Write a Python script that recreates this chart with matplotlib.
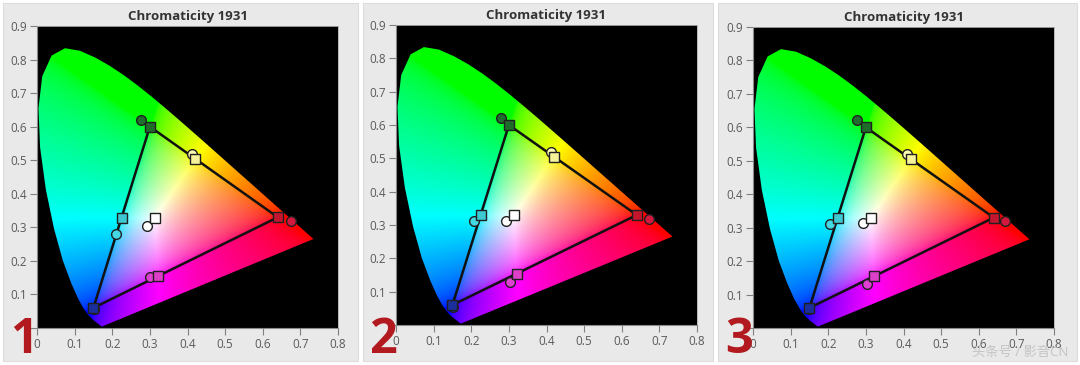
import numpy as np
import matplotlib
matplotlib.use("Agg")
import matplotlib.pyplot as plt
from matplotlib.patches import Polygon, Rectangle

plt.rcParams['font.family'] = ['Open Sans', 'Noto Sans CJK SC', 'DejaVu Sans']

# CIE 1931 spectral locus (2 deg observer), 380..700 nm
locus_x = [0.1741, 0.1740, 0.1738, 0.1736, 0.1733, 0.1730, 0.1726, 0.1721, 0.1714, 0.1703,
           0.1689, 0.1669, 0.1644, 0.1611, 0.1566, 0.1510, 0.1440, 0.1355, 0.1241, 0.1096,
           0.0913, 0.0687, 0.0454, 0.0235, 0.0082, 0.0039, 0.0139, 0.0389, 0.0743, 0.1142,
           0.1547, 0.1929, 0.2296, 0.2658, 0.3016, 0.3373, 0.3731, 0.4087, 0.4441, 0.4788,
           0.5125, 0.5448, 0.5752, 0.6029, 0.6270, 0.6482, 0.6658, 0.6801, 0.6915, 0.7006,
           0.7079, 0.7140, 0.7190, 0.7230, 0.7260, 0.7300, 0.7347]
locus_y = [0.0050, 0.0050, 0.0049, 0.0049, 0.0048, 0.0048, 0.0048, 0.0048, 0.0051, 0.0058,
           0.0069, 0.0086, 0.0109, 0.0138, 0.0177, 0.0227, 0.0297, 0.0399, 0.0578, 0.0868,
           0.1327, 0.2007, 0.2950, 0.4127, 0.5384, 0.6548, 0.7502, 0.8120, 0.8338, 0.8262,
           0.8059, 0.7816, 0.7543, 0.7243, 0.6923, 0.6589, 0.6245, 0.5896, 0.5547, 0.5202,
           0.4866, 0.4544, 0.4242, 0.3965, 0.3725, 0.3514, 0.3340, 0.3197, 0.3083, 0.2993,
           0.2920, 0.2859, 0.2809, 0.2770, 0.2740, 0.2700, 0.2653]

# order: R, G, B, Y, C, M, W
target_x = [0.64, 0.30, 0.15, 0.419, 0.225, 0.321, 0.3127]
target_y = [0.33, 0.60, 0.06, 0.505, 0.329, 0.154, 0.329]

measured_x = [
    [0.676, 0.277, 0.152, 0.411, 0.211, 0.300, 0.293],
    [0.672, 0.278, 0.151, 0.411, 0.207, 0.304, 0.293],
    [0.671, 0.276, 0.149, 0.410, 0.205, 0.304, 0.292],
]
measured_y = [
    [0.318, 0.620, 0.057, 0.520, 0.280, 0.153, 0.303],
    [0.318, 0.622, 0.055, 0.520, 0.311, 0.130, 0.313],
    [0.320, 0.623, 0.057, 0.520, 0.311, 0.131, 0.315],
]

square_colors = ['#c3162e', '#1f6b2a', '#1b2f9c', '#f6f29a', '#3cc9d2', '#de3fc9', '#ffffff']
circle_colors = ['#d3183e', '#1f6e2e', '#1a309e', '#fdfbb0', '#44d8e2', '#e040d2', '#ffffff']

panel_numbers = ['1', '2', '3']
title = 'Chromaticity 1931'
x_ticklabels = ['0', '0.1', '0.2', '0.3', '0.4', '0.5', '0.6', '0.7', '0.8']
y_ticklabels = ['', '0.1', '0.2', '0.3', '0.4', '0.5', '0.6', '0.7', '0.8', '0.9']

# pixel layout (1080x365)
W, H = 1080, 365
panel_boxes = [(3, 3, 358, 361), (363, 3, 713, 361), (718, 3, 1077, 361)]
axes_boxes = [(37, 26, 338, 328), (396, 25, 697, 325), (753, 27, 1054, 328)]


def chroma_image(nx=420, ny=470):
    xs = np.linspace(0, 0.8, nx)
    ys = np.linspace(0.001, 0.9, ny)
    gx, gy = np.meshgrid(xs, ys)
    X = gx / gy
    Y = np.ones_like(gx)
    Z = (1 - gx - gy) / gy
    m = np.array([[3.2406, -1.5372, -0.4986],
                  [-0.9689, 1.8758, 0.0415],
                  [0.0557, -0.2040, 1.0570]])
    xyz = np.stack([X, Y, Z], axis=-1)
    rgb = xyz @ m.T
    rgb = np.clip(rgb, 0, None)
    mx = rgb.max(axis=-1, keepdims=True)
    mx[mx == 0] = 1
    rgb = rgb / mx
    rgb = np.where(rgb <= 0.0031308, 12.92 * rgb, 1.055 * rgb ** (1 / 2.4) - 0.055)
    return np.clip(rgb, 0, 1)


img = chroma_image()

fig = plt.figure(figsize=(W / 100, H / 100), dpi=100)
fig.patch.set_facecolor('white')

for i in range(3):
    x0, y0, x1, y1 = panel_boxes[i]
    fig.patches.append(Rectangle((x0 / W, 1 - y1 / H), (x1 - x0) / W, (y1 - y0) / H,
                                 transform=fig.transFigure, facecolor='#e9e9e9',
                                 edgecolor='#dcdcdc', lw=0.8, zorder=-1))

    l, t, r, b = axes_boxes[i]
    ax = fig.add_axes([l / W, 1 - b / H, (r - l) / W, (b - t) / H])
    ax.set_facecolor('black')
    ax.set_xlim(0, 0.8)
    ax.set_ylim(0, 0.9)

    im = ax.imshow(img, origin='lower', extent=(0, 0.8, 0.001, 0.9), aspect='auto',
                   interpolation='bilinear', zorder=1)
    poly = Polygon(np.column_stack([locus_x, locus_y]), closed=True,
                   transform=ax.transData, facecolor='none', edgecolor='none')
    ax.add_patch(poly)
    im.set_clip_path(poly)

    # gamut triangle through R, G, B targets
    tri_x = [target_x[0], target_x[1], target_x[2], target_x[0]]
    tri_y = [target_y[0], target_y[1], target_y[2], target_y[0]]
    ax.plot(tri_x, tri_y, color='#111111', lw=1.8, zorder=3)

    for k in range(7):
        ax.plot(measured_x[i][k], measured_y[i][k], 'o', ms=7, mfc=circle_colors[k],
                mec='#202020', mew=1.0, zorder=4)
        ax.plot(target_x[k], target_y[k], 's', ms=7.8, mfc=square_colors[k],
                mec='#202020', mew=1.0, zorder=5)

    ax.set_xticks(np.arange(0, 0.81, 0.1))
    ax.set_yticks(np.arange(0, 0.91, 0.1))
    ax.set_xticklabels(x_ticklabels)
    ax.set_yticklabels(y_ticklabels)
    ax.tick_params(colors='#808080', labelcolor='#5a5a5a', labelsize=8.5, length=5, width=0.8, pad=2)
    for s in ['left', 'bottom']:
        ax.spines[s].set_color('#8a8a8a')
        ax.spines[s].set_linewidth(0.8)
    for s in ['top', 'right']:
        ax.spines[s].set_color('#b0b0b0')
        ax.spines[s].set_linewidth(0.6)

    ax.set_title(title, fontsize=9.5, fontweight='bold', color='#333333', pad=4)

    fig.text((l - 13.5) / W, 1 - 353 / H, panel_numbers[i], fontsize=35, fontweight='bold',
             color='#b21a20', ha='center', va='baseline', zorder=10)

fig.text(1068 / W, 1 - 352 / H, '头条号 / 影音CN', fontsize=9.5, color='#c4c4c4',
         ha='right', va='center', zorder=10)

fig.savefig('out.png', dpi=100, facecolor=fig.get_facecolor())
